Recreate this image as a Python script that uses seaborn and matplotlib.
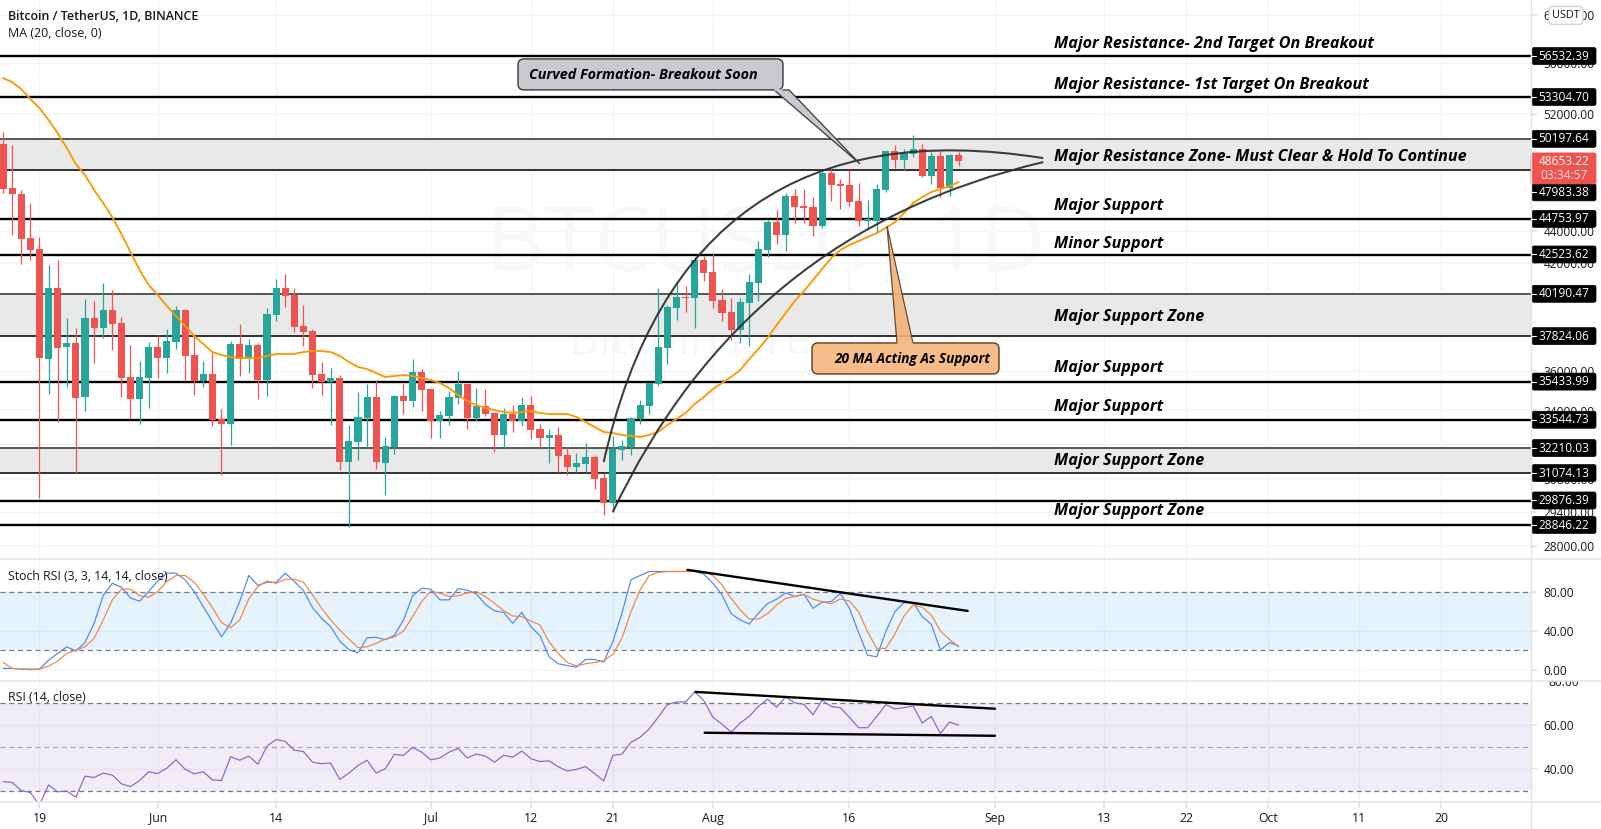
import numpy as np
import pandas as pd
import matplotlib
matplotlib.use("Agg")
import matplotlib.pyplot as plt
import matplotlib.transforms as mtrans
from matplotlib.patches import FancyBboxPatch, Polygon, PathPatch
from matplotlib.path import Path
import seaborn as sns

sns.set_theme(style="white")
plt.rcParams['font.family'] = ['Open Sans', 'DejaVu Sans']

# daily candles, day 0 = 19 May
day = list(range(-4, 102))
opens = [49830, 46780, 46380, 43540, 42860, 36600, 40530, 37240, 37450, 34660, 38820, 38270, 39270, 38540, 35670, 34560,
         35620, 37240, 36660, 37510, 39270, 36820, 35470, 35830, 33590, 33340, 37400, 36660, 37350, 35520, 38990, 40530,
         40120, 38380, 38100, 35830, 35420, 35620, 31580, 32500, 33630, 34660, 31530, 32260, 34710, 34460, 35930, 35060,
         33490, 33730, 34610, 35310, 33630, 34220, 33880, 32820, 33830, 33490, 34270, 33110, 32680, 32820, 31900, 31350,
         31490, 31800, 30860, 29770, 32120, 32260, 33590, 34220, 35310, 37190, 39380, 40010, 39950, 42190, 41470, 39840,
         39160, 38160, 39670, 40820, 42800, 44550, 43730, 46250, 45590, 45520, 44300, 47800, 47050, 46980, 45920, 44620,
         44620, 46650, 49330, 48700, 49120, 49480, 47600, 48980, 46780, 49050]
highs = [50690, 49760, 46650, 45790, 43610, 41890, 42190, 38820, 38270, 39890, 39780, 40820, 40410, 38880, 37350, 36500,
         37510, 37890, 38210, 39500, 39300, 37940, 36500, 36920, 34070, 37560, 38490, 37670, 37450, 39380, 41060, 41350,
         40530, 39550, 38210, 36450, 36140, 35770, 33300, 34910, 35310, 35520, 32730, 34760, 35310, 36600, 36080, 35060,
         33970, 34960, 35980, 35310, 35110, 35060, 33880, 34120, 34270, 34660, 34710, 33340, 33110, 33200, 32260, 31990,
         32450, 31900, 31080, 32780, 32590, 33680, 34510, 35420, 40530, 39550, 40880, 40650, 42370, 42430, 42610, 40470,
         39950, 39950, 41350, 43360, 44680, 45330, 46450, 46720, 46720, 46180, 47940, 48140, 47390, 48010, 47120, 45980,
         47050, 49400, 49760, 49480, 50480, 49830, 49260, 49330, 49120, 49260]
lows = [46450, 43730, 41950, 42190, 29980, 34810, 33440, 35160, 31080, 33970, 36400, 37720, 37080, 34660, 33590, 33340,
        34120, 35620, 35880, 37130, 35520, 34760, 35160, 33250, 30990, 32360, 35720, 35880, 34560, 34710, 38650, 39440,
        38050, 37290, 35110, 34760, 33300, 31210, 28760, 31670, 32260, 31260, 30120, 31940, 33830, 34170, 33970, 32680,
        32680, 33300, 34320, 33110, 33490, 33730, 32030, 32220, 32960, 33250, 32640, 32170, 31530, 31130, 30990, 31130,
        31130, 30380, 29260, 29390, 31670, 31900, 33340, 33830, 35200, 36340, 38710, 39160, 38270, 40940, 39380, 38650,
        37620, 37450, 37290, 39780, 42370, 43170, 42740, 44490, 44490, 43670, 44170, 45920, 45390, 45590, 44300, 44110,
        43860, 46520, 48140, 48010, 48910, 47530, 47050, 46180, 46250, 48280]
closes = [46710, 46380, 43480, 42800, 36660, 40530, 37190, 37450, 34610, 38820, 38270, 39270, 38490, 35620, 34560, 35670,
          37240, 36660, 37560, 39270, 36760, 35470, 35830, 33540, 33340, 37400, 36600, 37350, 35520, 39050, 40530, 40070,
          38320, 38050, 35770, 35420, 35620, 31580, 32540, 33680, 34660, 31580, 32310, 34710, 34460, 35930, 35010, 33490,
          33780, 34660, 35310, 33630, 34220, 33830, 32820, 33830, 33490, 34270, 33060, 32680, 32820, 31850, 31350, 31530,
          31800, 30810, 29770, 32170, 32310, 33630, 34270, 35360, 37240, 39440, 40010, 39950, 42190, 41410, 39780, 39100,
          38160, 39720, 40880, 42860, 44550, 43730, 46250, 45520, 45460, 44300, 47800, 46980, 46920, 45850, 44620, 44750,
          46720, 49330, 48700, 49190, 49480, 47600, 48980, 46780, 49050, 48650]
ma20 = [54780, 54460, 53916, 53155, 52470, 51575, 50620, 49545, 48418, 47664, 46647, 45786, 44873, 43795, 42674, 41590,
        40704, 40124, 39497, 38931, 38378, 37832, 37400, 36973, 36815, 36709, 36657, 36657, 36657, 36762, 36868, 36868,
        36868, 36973, 37026, 37026, 36973, 36762, 36447, 36187, 36083, 35876, 35670, 35722, 35773, 35722, 35619, 35516,
        35364, 35110, 34760, 34462, 34266, 34119, 34021, 33924, 33875, 33924, 33972, 33875, 33827, 33827, 33827, 33681,
        33440, 33202, 32964, 32917, 32823, 32776, 32729, 32823, 32964, 33297, 33585, 33875, 34315, 34660, 35060, 35364,
        35670, 36031, 36604, 37133, 37723, 38433, 39103, 39780, 40355, 40996, 41650, 42309, 42796, 43108, 43357, 43607,
        43857, 44173, 44553, 45130, 45786, 46183, 46515, 46715, 46917, 47187]
stoch_k = [1.4, 1.4, 0.7, 0.3, 0.7, 9.9, 16.8, 23.6, 19.1, 28, 47.5, 75.9, 88.5, 84.4, 73.5, 70.1, 80, 90.9, 98.8, 98.8,
           92, 80, 64.6, 49.2, 33.8, 47.5, 69.7, 96.4, 86.2, 89.6, 89.2, 98.8, 90.3, 81, 63.6, 52.6, 44.1, 29.4, 20.5, 17.4,
           32.8, 33.2, 30.8, 35.2, 50.9, 75.6, 83.4, 82.4, 71.5, 71.5, 83.1, 81.4, 77.6, 67, 60.2, 58.8, 47.5, 58.8, 44.1,
           34.9, 13.3, 6.2, 4.4, 2.7, 10.6, 10.6, 7.9, 28.7, 57.8, 92, 96.4, 100.5, 100.5, 100.5, 100.5, 100.5, 100.5, 97.8,
           88.5, 76.6, 57.4, 50.9, 46.8, 57.8, 67.7, 72.1, 78.6, 74.9, 77.3, 62.9, 69.1, 69.7, 78.3, 62.9, 38.3, 15, 13.3,
           39, 59.5, 68.7, 68.7, 54.4, 46.5, 20.2, 28, 24.3]
stoch_d = [7.5, 1.4, 1, 0.7, 0.7, 3.8, 8.9, 16.8, 20.2, 23.6, 32.1, 50.9, 71.5, 82.4, 82.4, 75.9, 74.2, 80, 90.3, 96.4,
           96.4, 89.6, 77.3, 63.6, 48.2, 43.1, 50.9, 72.5, 85.1, 90.9, 88.5, 92.6, 92.6, 89.6, 76.6, 62.9, 50.9, 40.7, 31.5,
           22.6, 23.6, 27, 31.5, 33.5, 39.7, 54.4, 69.7, 80.7, 78.3, 74.9, 75.6, 78.6, 80, 74.9, 68, 60.5, 55, 54.4, 49.9,
           45.8, 28.7, 16.8, 7.5, 4.1, 6.2, 7.5, 9.2, 15.7, 32.1, 59.5, 81.7, 96.4, 99.5, 100.5, 100.5, 100.5, 100.5, 99.8,
           96.4, 86.8, 73.2, 61.2, 52, 52, 57.4, 66.3, 73.2, 74.9, 77.3, 72.1, 69.7, 67.4, 72.5, 70.4, 59.5, 39, 21.9, 21.9,
           36.6, 55, 66.3, 63.9, 56.1, 39.7, 31.1, 23.6]
rsi = [34.1, 33.7, 30, 29.1, 23.4, 32.6, 29.4, 29.8, 26.9, 36.6, 36, 38, 37.1, 33.1, 31.8, 34.6, 38.6, 37.8, 40.3, 44.1,
       39.8, 37.7, 38.6, 34.9, 34.6, 45.5, 43.9, 45.8, 42.1, 50.4, 53.4, 52.5, 48.5, 47.9, 43, 42.3, 42.6, 35.1, 38, 41.5,
       43.9, 38, 40, 46.6, 46.1, 49.8, 47.6, 44.1, 44.9, 47.6, 49.3, 45, 46.7, 45.8, 43, 46.2, 45.3, 48.1, 44.6, 43.3, 43.6,
       40.9, 39, 39.7, 41, 37.8, 34.4, 46.1, 46.7, 52.1, 54.4, 58.2, 63.7, 69.4, 70.6, 70.6, 75.2, 71.2, 63.6, 60.5, 56.7,
       61, 64, 68.6, 71.8, 68.3, 72.9, 70.2, 69.5, 64.8, 71.4, 68.5, 68, 63.6, 58.8, 58.8, 63.9, 69.4, 67.4, 68, 68.8, 61,
       64, 56.1, 61.4, 60]

line_levels = [56532.39, 53304.70, 44753.97, 42523.62, 35433.99, 33544.73, 29876.39, 28846.22]
zones = [(47983.38, 50197.64), (37824.06, 40190.47), (31074.13, 32210.03)]
last_price = 48653.22
countdown = "03:34:57"

# drawn curves (start, control, end) and trend lines
arc_up_day = [62.0, 70.9, 110.3]
arc_up_px = [31577, 53000, 48835]
arc_lo_day = [63.0, 77.5, 110.3]
arc_lo_px = [29388, 43920, 48558]
stoch_trend = ([71.2, 102.0], [102.2, 60.2])
rsi_trend_up = ([72.1, 105.0], [75.2, 67.5])
rsi_trend_lo = ([73.1, 105.0], [56.5, 55.1])

price_ticks = [60000, 56000, 52000, 48000, 44000, 42000, 40000, 38000, 36000, 34000, 32400, 30800, 29400, 28000]
date_ticks = [0, 13, 26, 43, 54, 63, 74, 89, 105, 117, 126, 135, 145, 154]
date_labels = ['19', 'Jun', '14', 'Jul', '12', '21', 'Aug', '16', 'Sep', '13', '22', 'Oct', '11', '20']

notes = [("Major Resistance- 2nd Target On Breakout", 42), ("Major Resistance- 1st Target On Breakout", 83),
         ("Major Resistance Zone- Must Clear & Hold To Continue", 155), ("Major Support", 204), ("Minor Support", 242),
         ("Major Support Zone", 315.5), ("Major Support", 366.5), ("Major Support", 405), ("Major Support Zone", 459.5),
         ("Major Support Zone", 509.5)]

W, H = 1601, 829
GRID = '#f3f4f8'
TXT = '#131722'
AXC = '#e0e3eb'
RIGHT = 1531
xlim = (-4.34, 163.9)


def panel(top, bottom):
    a = fig.add_axes([0, 1 - bottom / H, RIGHT / W, (bottom - top) / H])
    a.set_xlim(*xlim)
    a.set_xticks(date_ticks)
    a.grid(True, color=GRID, lw=1)
    a.set_axisbelow(True)
    for s in a.spines.values():
        s.set_visible(False)
    a.yaxis.tick_right()
    a.tick_params(axis='y', right=True, length=4, color=AXC, labelsize=8.6, labelcolor=TXT, pad=5)
    a.tick_params(axis='x', bottom=False, labelbottom=False)
    return a


def arc(a, xs, ys):
    path = Path(list(zip(xs, ys)), [Path.MOVETO, Path.CURVE3, Path.CURVE3])
    a.add_patch(PathPatch(path, fill=False, ec='#2a2a2a', lw=1.5, alpha=0.9, zorder=2.4))


fig = plt.figure(figsize=(W / 100, 8.291), dpi=100, facecolor='white')

# price panel
ax = panel(0, 559.4)
ax.set_yscale('log')
ax.set_ylim(27457, 61283)
ax.set_yticks(price_ticks)
ax.set_yticklabels([f'{p:.2f}' for p in price_ticks])
ax.minorticks_off()
ax.set_ylabel('')

ax.text(0.5, 0.558, 'BTCUSDT, 1D', transform=ax.transAxes, ha='center', va='center', fontsize=65, color='#f7f8fa', zorder=0.6)
ax.text(0.5, 0.389, 'Bitcoin / TetherUS', transform=ax.transAxes, ha='center', va='center', fontsize=33.6, color='#f7f8fa', zorder=0.6)

for lo, hi in zones:
    ax.axhspan(lo, hi, color='#e9e9ea', lw=0, zorder=0.7)
    ax.axhline(hi, color='#4a4a4a', lw=1.3, zorder=1)
    ax.axhline(lo, color='#222222', lw=1.3, zorder=1)
ax.hlines(line_levels, *xlim, color='black', lw=1.7, zorder=1)

is_up = np.array(closes) >= np.array(opens)
candle_col = np.where(is_up, '#26a69a', '#ef5350')
ax.vlines(day, lows, highs, colors=candle_col, lw=0.9, zorder=2)
ax.bar(day, np.abs(np.array(closes) - np.array(opens)), bottom=np.minimum(opens, closes), width=0.78,
       color=candle_col, lw=0, zorder=2.1)

sns.lineplot(x=day, y=ma20, ax=ax, color='#ff9800', lw=1.35, estimator=None, legend=False, zorder=2.2)
arc(ax, arc_up_day, arc_up_px)
arc(ax, arc_lo_day, arc_lo_px)
ax.set_xlim(*xlim)

# stoch rsi panel
ax2 = panel(559.4, 680.6)
ax2.set_ylim(-11, 112.9)
ax2.set_yticks([0, 40, 80])
ax2.set_yticklabels(['0.00', '40.00', '80.00'])
ax2.axhspan(20, 80, color='#2196f3', alpha=0.11, lw=0, zorder=0.7)
for v in (20, 80):
    ax2.axhline(v, color='#787b86', lw=0.9, dashes=(4, 3), zorder=1)
sns.lineplot(x=day, y=stoch_k, ax=ax2, color='#4a86f5', lw=0.85, estimator=None, legend=False, zorder=2)
sns.lineplot(x=day, y=stoch_d, ax=ax2, color='#f4843a', lw=0.85, estimator=None, legend=False, zorder=2.1)
ax2.plot(*stoch_trend, color='black', lw=1.7, zorder=3)
ax2.set_xlim(*xlim)

# rsi panel
ax3 = panel(680.6, 801.7)
ax3.set_ylim(24.9, 80.4)
ax3.set_yticks([40, 60])
ax3.set_yticklabels(['40.00', '60.00'])
ax3.axhspan(30, 70, color='#7e57c2', alpha=0.11, lw=0, zorder=0.7)
for v, c in ((30, '#787b86'), (50, '#a9a9b6'), (70, '#787b86')):
    ax3.axhline(v, color=c, lw=0.9, dashes=(4, 3), zorder=1)
sns.lineplot(x=day, y=rsi, ax=ax3, color='#8a63cb', lw=0.85, estimator=None, legend=False, zorder=2)
ax3.plot(*rsi_trend_up, color='black', lw=1.7, zorder=3)
ax3.plot(*rsi_trend_lo, color='black', lw=1.7, zorder=3)
ax3.set_xlim(*xlim)
ax3.set_xticklabels(date_labels)
ax3.tick_params(axis='x', bottom=True, labelbottom=True, length=4, color=AXC, labelsize=8.8, labelcolor=TXT, pad=3)

# overlay in image pixels for tags and callouts
over = fig.add_axes([0, 0, 1, 1], zorder=10)
over.set_xlim(0, W)
over.set_ylim(H, 0)
over.axis('off')
over.patch.set_alpha(0)


def price_y(p):
    return H - ax.transData.transform((0, p))[1]


def tag(p, label, shift=0, face='black'):
    y = price_y(p) + shift
    over.add_patch(FancyBboxPatch((RIGHT + 1, y - 8.5), 64, 17, boxstyle='round,pad=0,rounding_size=2', fc=face, ec=face, lw=0.5))
    over.plot([RIGHT, RIGHT + 5], [y, y], color='white', lw=0.8)
    over.text(RIGHT + 33, y, label, color='white', fontsize=8.6, ha='center', va='center')


over.vlines(RIGHT, 0, H, color=AXC, lw=1)
over.hlines([559.4, 680.6, 801.7], 0, W, color=AXC, lw=1.1)

clip = mtrans.Bbox([[RIGHT, H - 700], [W, H - 681]])
t80 = over.text(1564, 682.5, '80.00', fontsize=8.6, color=TXT, ha='center', va='center', zorder=1)
t80.set_clip_box(clip)
t80.set_clip_on(True)

for lev in [56532.39, 53304.70, 50197.64, 44753.97, 42523.62, 40190.47, 37824.06, 35433.99, 33544.73,
            32210.03, 31074.13, 29876.39, 28846.22]:
    tag(lev, f'{lev:.2f}')
# this tag is pushed down below the last price box
tag(47983.38, '47983.38', shift=22)

over.add_patch(FancyBboxPatch((RIGHT, 153), 65, 31, boxstyle='round,pad=0,rounding_size=2', fc='#ef5350', ec='#ef5350', lw=0.5))
over.text(RIGHT + 33, 161.5, f'{last_price:.2f}', color='white', fontsize=8.6, ha='center', va='center')
over.text(RIGHT + 33, 175.5, countdown, color='#fde1e1', fontsize=8.6, ha='center', va='center')

over.add_patch(FancyBboxPatch((1549, 6.5), 34, 18, boxstyle='round,pad=0,rounding_size=4', fc='white', ec='#d1d4dc', lw=1))
over.text(1566, 15, 'USDT', color=TXT, fontsize=7.8, ha='center', va='center')

over.text(8, 16.5, 'Bitcoin / TetherUS, 1D, BINANCE', color=TXT, fontsize=8.9, fontweight='semibold', va='center')
over.text(8, 33.5, 'MA (20, close, 0)', color=TXT, fontsize=8.9, va='center')
over.text(8, 576, 'Stoch RSI (3, 3, 14, 14, close)', color=TXT, fontsize=8.8, va='center')
over.text(8, 697.5, 'RSI (14, close)', color=TXT, fontsize=8.8, va='center')

for label, y in notes:
    over.text(1054, y + 1.5, label, color='black', fontsize=11.65, fontweight='bold', fontstyle='italic', va='center')

# callouts
over.add_patch(Polygon([(774, 90), (789, 90), (860, 164)], closed=True, fc='#c9cacf', ec='#3a3a3a', lw=0.9))
over.add_patch(FancyBboxPatch((518, 59), 265, 31, boxstyle='round,pad=0,rounding_size=6', fc='#c9cacf', ec='#3a3a3a', lw=1))
over.plot([775, 782], [90, 90], color='#c9cacf', lw=1.4)
over.text(643, 74.5, 'Curved Formation- Breakout Soon', color='black', fontsize=10.4, fontweight='bold', fontstyle='italic', ha='center', va='center')

over.add_patch(Polygon([(897, 343), (913, 343), (887, 226)], closed=True, fc='#f1b27a', ec='#5c3b1c', lw=0.9, alpha=0.9))
over.add_patch(FancyBboxPatch((812, 343), 187, 31, boxstyle='round,pad=0,rounding_size=6', fc='#f6bd8a', ec='#5c3b1c', lw=1))
over.plot([898, 912], [343, 343], color='#f6bd8a', lw=1.4)
over.text(912, 358.5, '20 MA Acting As Support', color='black', fontsize=9.8, fontweight='bold', fontstyle='italic', ha='center', va='center')

fig.savefig('out.png', dpi=100)
